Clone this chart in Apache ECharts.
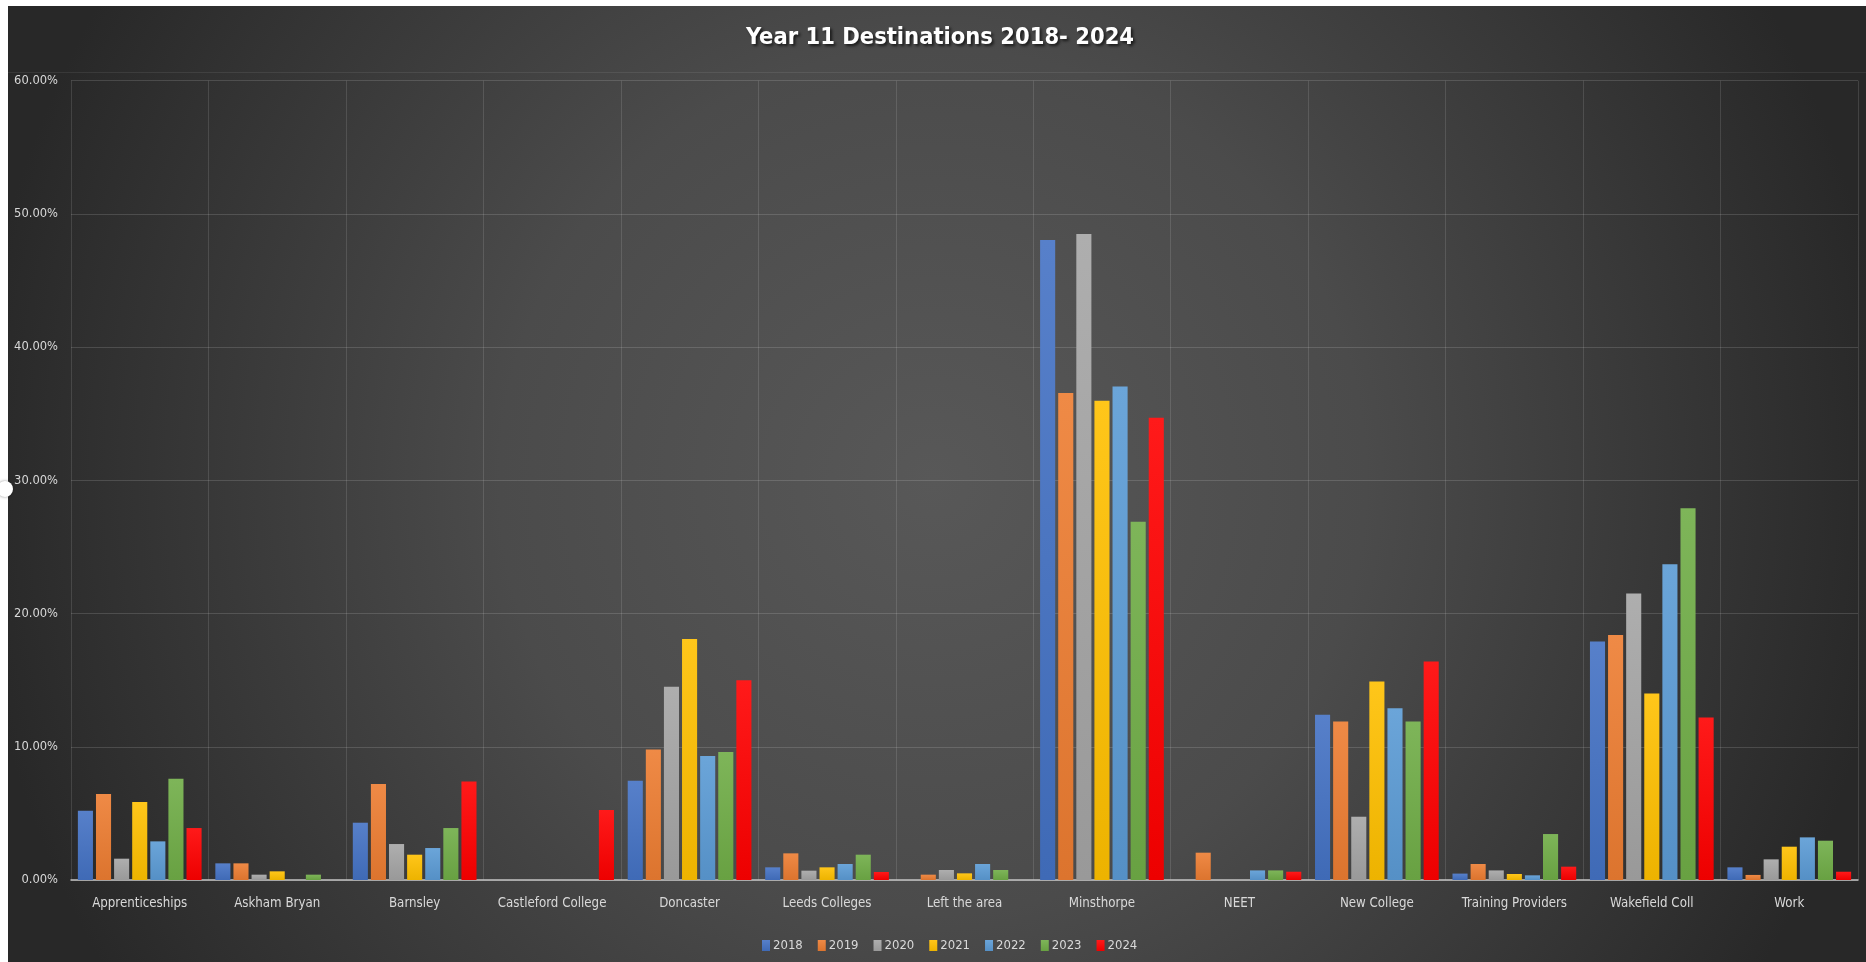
<!DOCTYPE html>
<html><head><meta charset="utf-8">
<script src="https://cdn.jsdelivr.net/npm/echarts@6/dist/echarts.min.js"></script>
<style>html,body{margin:0;padding:0;background:#fff;overflow:hidden}#chart{width:1866px;height:962px;}</style>
</head><body><div id="chart"></div>
<script>
const categories = ['Apprenticeships','Askham Bryan','Barnsley','Castleford College','Doncaster','Leeds Colleges','Left the area','Minsthorpe','NEET','New College','Training Providers','Wakefield Coll','Work'];
const years = ['2018','2019','2020','2021','2022','2023','2024'];
const v2018 = [5.2, 1.25, 4.3, 0, 7.45, 0.95, 0, 48.05, 0, 12.4, 0.48, 17.9, 0.95];
const v2019 = [6.45, 1.25, 7.2, 0, 9.8, 2.0, 0.4, 36.55, 2.05, 11.9, 1.2, 18.4, 0.38];
const v2020 = [1.6, 0.4, 2.7, 0, 14.5, 0.7, 0.75, 48.5, 0, 4.75, 0.72, 21.5, 1.55];
const v2021 = [5.85, 0.65, 1.9, 0, 18.1, 0.95, 0.5, 35.97, 0, 14.9, 0.45, 14.0, 2.5];
const v2022 = [2.9, 0, 2.4, 0, 9.3, 1.2, 1.2, 37.05, 0.72, 12.9, 0.35, 23.7, 3.2];
const v2023 = [7.6, 0.4, 3.9, 0, 9.6, 1.9, 0.75, 26.9, 0.72, 11.9, 3.45, 27.9, 2.95];
const v2024 = [3.9, 0, 7.4, 5.25, 15.0, 0.6, 0, 34.7, 0.62, 16.4, 1.0, 12.2, 0.62];
const yMin = 0, yMax = 60, yStep = 10;

const seriesValues = [v2018, v2019, v2020, v2021, v2022, v2023, v2024];
const colors = ['#4472C4','#ED7D31','#A5A5A5','#FFC000','#5B9BD5','#70AD47','#FF0000'];

function shade(hex, f) {
  const n = parseInt(hex.slice(1), 16);
  let r = (n >> 16) & 255, g = (n >> 8) & 255, b = n & 255;
  const t = f > 0 ? 255 : 0, p = Math.abs(f);
  r = Math.round(r + (t - r) * p); g = Math.round(g + (t - g) * p); b = Math.round(b + (t - b) * p);
  return 'rgb(' + r + ',' + g + ',' + b + ')';
}

const FONT = '"DejaVu Sans Condensed","Liberation Sans Narrow","Liberation Sans",sans-serif';
const chart = echarts.init(document.getElementById('chart'), null, {renderer: 'canvas'});
const series = years.map((y, i) => ({
  name: y,
  type: 'bar',
  data: seriesValues[i],
  barGap: '20%',
  barCategoryGap: '10%',
  itemStyle: {
    color: {
      type: 'linear', x: 0, y: 0, x2: 0, y2: 1,
      colorStops: [
        {offset: 0, color: shade(colors[i], 0.1)},
        {offset: 1, color: shade(colors[i], -0.07)}
      ]
    }
  },
  emphasis: {disabled: true}
}));

chart.setOption({
  animation: false,
  backgroundColor: {
    type: 'radial', x: 0.5, y: 0.5, r: 1,
    colorStops: [
      {offset: 0, color: '#585858'},
      {offset: 0.45, color: '#4b4b4b'},
      {offset: 0.97, color: '#2a2a2a'},
      {offset: 1, color: '#282828'}
    ]
  },
  color: colors,
  title: {
    text: 'Year 11 Destinations 2018- 2024',
    left: 940,
    textAlign: 'center',
    top: 26,
    padding: 0,
    textStyle: {
      color: '#ffffff', fontSize: 23.5, fontWeight: 'bold', fontFamily: FONT,
      textShadowColor: 'rgba(0,0,0,0.65)', textShadowBlur: 3, textShadowOffsetX: 2, textShadowOffsetY: 2
    }
  },
  legend: {
    data: years,
    left: 762,
    top: 939,
    padding: 0,
    icon: 'rect',
    itemWidth: 8,
    itemHeight: 11,
    itemGap: 15,
    textStyle: {color: '#d9d9d9', fontSize: 13, fontFamily: FONT, padding: [0, 0, 0, -2]}
  },
  grid: {left: 71, right: 8, top: 80.7, bottom: 82, containLabel: false},
  xAxis: {
    type: 'category',
    data: categories,
    boundaryGap: true,
    axisLine: {show: true, lineStyle: {color: '#c4c4c4', width: 1.5}},
    axisTick: {show: false},
    splitLine: {show: true, lineStyle: {color: 'rgba(255,255,255,0.12)', width: 1}},
    axisLabel: {color: '#d9d9d9', fontSize: 13.2, fontFamily: FONT, margin: 17, interval: 0}
  },
  yAxis: {
    type: 'value',
    min: yMin, max: yMax, interval: yStep,
    axisLine: {show: false},
    axisTick: {show: false},
    splitLine: {show: true, lineStyle: {color: 'rgba(255,255,255,0.14)', width: 1}},
    axisLabel: {color: '#d9d9d9', fontSize: 12.8, fontFamily: FONT, margin: 13,
      formatter: v => v.toFixed(2) + '%'}
  },
  graphic: [
    {type: 'line', shape: {x1: 8, y1: 72.5, x2: 1866, y2: 72.5}, style: {stroke: 'rgba(255,255,255,0.08)', lineWidth: 1}, silent: true},
    {type: 'rect', shape: {x: 0, y: 0, width: 1866, height: 6}, style: {fill: '#ffffff'}, z: 100, silent: true},
    {type: 'rect', shape: {x: 0, y: 0, width: 8, height: 962}, style: {fill: '#ffffff'}, z: 100, silent: true},
    {type: 'circle', shape: {cx: 5, cy: 489, r: 8}, style: {fill: '#ffffff', shadowColor: 'rgba(0,0,0,0.4)', shadowBlur: 3}, z: 100, silent: true}
  ],
  series: series
});
</script>
</body></html>
